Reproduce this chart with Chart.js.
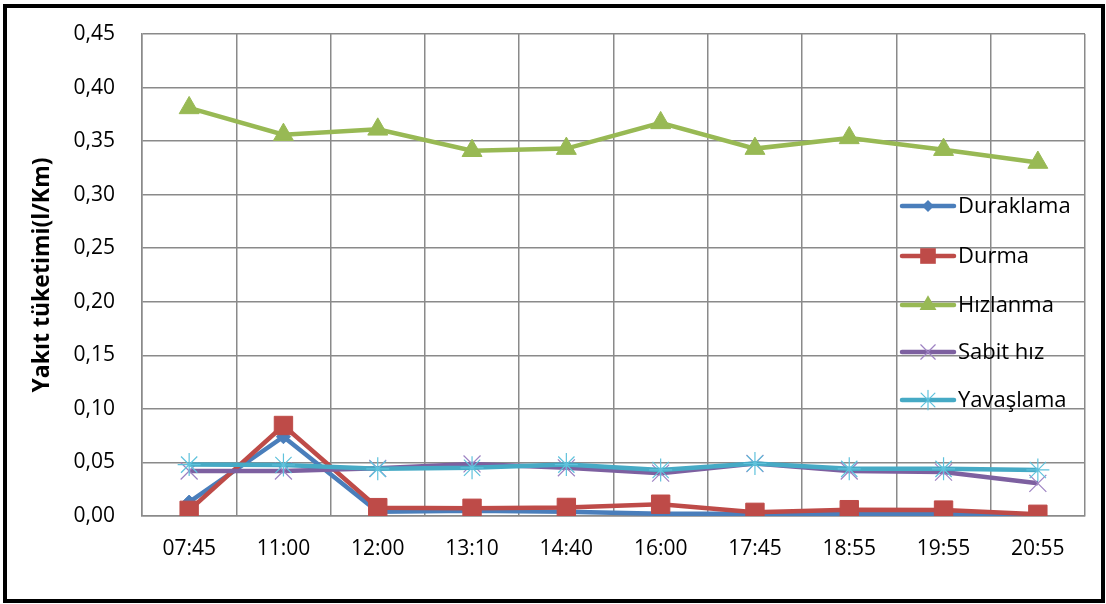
<!DOCTYPE html>
<html>
<head>
<meta charset="utf-8">
<script src="https://cdn.jsdelivr.net/npm/chart.js@4/dist/chart.umd.min.js"></script>
<style>
html,body{margin:0;padding:0;background:#fff;}
#wrap{width:1106px;height:604px;position:relative;}
</style>
</head>
<body>
<div id="wrap"><canvas id="c" width="1106" height="604"></canvas></div>
<script>
const categories = ["07:45","11:00","12:00","13:10","14:40","16:00","17:45","18:55","19:55","20:55"];
const seriesNames = ["Duraklama","Durma","Hızlanma","Sabit hız","Yavaşlama"];
const duraklama = [0.013,0.074,0.004,0.005,0.004,0.002,0.002,0.002,0.002,0.001];
const durma     = [0.0053,0.0845,0.0078,0.0072,0.008,0.011,0.0034,0.0059,0.0055,0.0016];
const hizlanma  = [0.381,0.356,0.361,0.341,0.343,0.367,0.343,0.353,0.342,0.330];
const sabitHiz  = [0.042,0.042,0.0445,0.0486,0.045,0.040,0.049,0.042,0.041,0.0305];
const yavaslama = [0.048,0.0476,0.044,0.045,0.048,0.043,0.049,0.044,0.044,0.043];
const yTicks = ["0,00","0,05","0,10","0,15","0,20","0,25","0,30","0,35","0,40","0,45"];
const yTitle = "Yakıt tüketimi(l/Km)";

const colors = ["#4A7EBB","#BE4B48","#98B954","#7D60A0","#46AAC5"];
const markerColors = ["#4A7EBB","#BE4B48","#98B954","#9D82C2","#5FC2DC"];
const styles = ["rectRot","rect","triangle","crossRot","star"];
const radii = [7,13,11.5,12,11.5];
const values = [duraklama,durma,hizlanma,sabitHiz,yavaslama];

const datasets = values.map((v,i)=>({
  label: seriesNames[i],
  data: v,
  borderColor: colors[i],
  backgroundColor: markerColors[i],
  pointBackgroundColor: markerColors[i],
  pointBorderColor: markerColors[i],
  pointBorderWidth: (i>=3)?1.2:1,
  borderWidth: 4.5,
  pointStyle: styles[i],
  pointRadius: radii[i],
  tension: 0,
  order: 5-i
}));

function drawMarker(ctx, style, x, y, r, color){
  ctx.save();
  ctx.fillStyle = color; ctx.strokeStyle = color; ctx.lineWidth = 1.2;
  ctx.beginPath();
  if(style==='rect'){ const s=r/Math.SQRT2; ctx.rect(x-s,y-s,2*s,2*s); ctx.fill(); }
  else if(style==='rectRot'){ ctx.moveTo(x-r,y); ctx.lineTo(x,y-r); ctx.lineTo(x+r,y); ctx.lineTo(x,y+r); ctx.closePath(); ctx.fill(); }
  else if(style==='triangle'){ const a=Math.PI/6; ctx.moveTo(x, y-r); ctx.lineTo(x+r*Math.cos(a), y+r*Math.sin(a)); ctx.lineTo(x-r*Math.cos(a), y+r*Math.sin(a)); ctx.closePath(); ctx.fill(); }
  else if(style==='crossRot'){ const s=r*Math.SQRT1_2; ctx.moveTo(x-s,y-s); ctx.lineTo(x+s,y+s); ctx.moveTo(x+s,y-s); ctx.lineTo(x-s,y+s); ctx.stroke(); }
  else if(style==='star'){ const s=r*Math.SQRT1_2; ctx.moveTo(x-s,y-s); ctx.lineTo(x+s,y+s); ctx.moveTo(x+s,y-s); ctx.lineTo(x-s,y+s); ctx.moveTo(x,y-r); ctx.lineTo(x,y+r); ctx.stroke(); }
  ctx.restore();
}

const framePlugin = {
  id:'frame',
  beforeDraw(chart){
    const ctx = chart.ctx;
    ctx.save();
    ctx.fillStyle = '#fff';
    ctx.fillRect(0,0,chart.width,chart.height);
    ctx.restore();
  },
  afterDraw(chart){
    const ctx = chart.ctx;
    ctx.save();
    ctx.strokeStyle = '#000';
    ctx.lineWidth = 4;
    ctx.strokeRect(5,6,1098,595);
    ctx.restore();
  }
};

const legendPlugin = {
  id:'customLegend',
  afterDatasetsDraw(chart){
    const ctx = chart.ctx;
    const rows = [206,256,305,352,400];
    ctx.save();
    seriesNames.forEach((name,i)=>{
      const y = rows[i];
      ctx.strokeStyle = colors[i];
      ctx.lineWidth = 4.5;
      ctx.lineCap = 'round';
      ctx.beginPath(); ctx.moveTo(902,y); ctx.lineTo(954,y); ctx.stroke();
      drawMarker(ctx, styles[i], 928, y, radii[i]*0.85, markerColors[i]);
      ctx.fillStyle = '#000';
      ctx.font = '22px "Open Sans"';
      ctx.textBaseline = 'middle';
      ctx.textAlign = 'left';
      ctx.fillText(name, 958, y+1);
    });
    ctx.restore();
  }
};

new Chart(document.getElementById('c'), {
  type:'line',
  data:{ labels: categories, datasets },
  options:{
    responsive:false,
    animation:false,
    devicePixelRatio:1,
    layout:{ padding:{ left:0, top:34, right:21, bottom:0 } },
    plugins:{ legend:{display:false}, tooltip:{enabled:false} },
    scales:{
      x:{
        offset:true,
        grid:{ offset:true, color:'#8A8A8A', lineWidth:1.5, drawTicks:false },
        border:{ color:'#8A8A8A', width:1.5 },
        ticks:{ color:'#000', font:{ family:'"Open Sans"', size:21 }, padding:20, maxRotation:0 },
        afterFit(s){ s.height = 88; s.paddingLeft = 0; s.paddingRight = 0; }
      },
      y:{
        min:0, max:0.45,
        grid:{ color:'#8A8A8A', lineWidth:1.5, drawTicks:false },
        border:{ color:'#8A8A8A', width:1.5 },
        ticks:{ stepSize:0.05, color:'#000', font:{ family:'"Open Sans"', size:21 }, padding:27,
          callback:(v,i)=> yTicks[i] },
        title:{ display:true, text:yTitle, color:'#000', font:{ family:'"Open Sans"', size:23, weight:'bold' }, padding:{top:29,bottom:0} },
        afterFit(s){ s.width = 142; s.paddingTop = 0; s.paddingBottom = 0; }
      }
    }
  },
  plugins:[framePlugin, legendPlugin]
});
</script>
</body>
</html>
